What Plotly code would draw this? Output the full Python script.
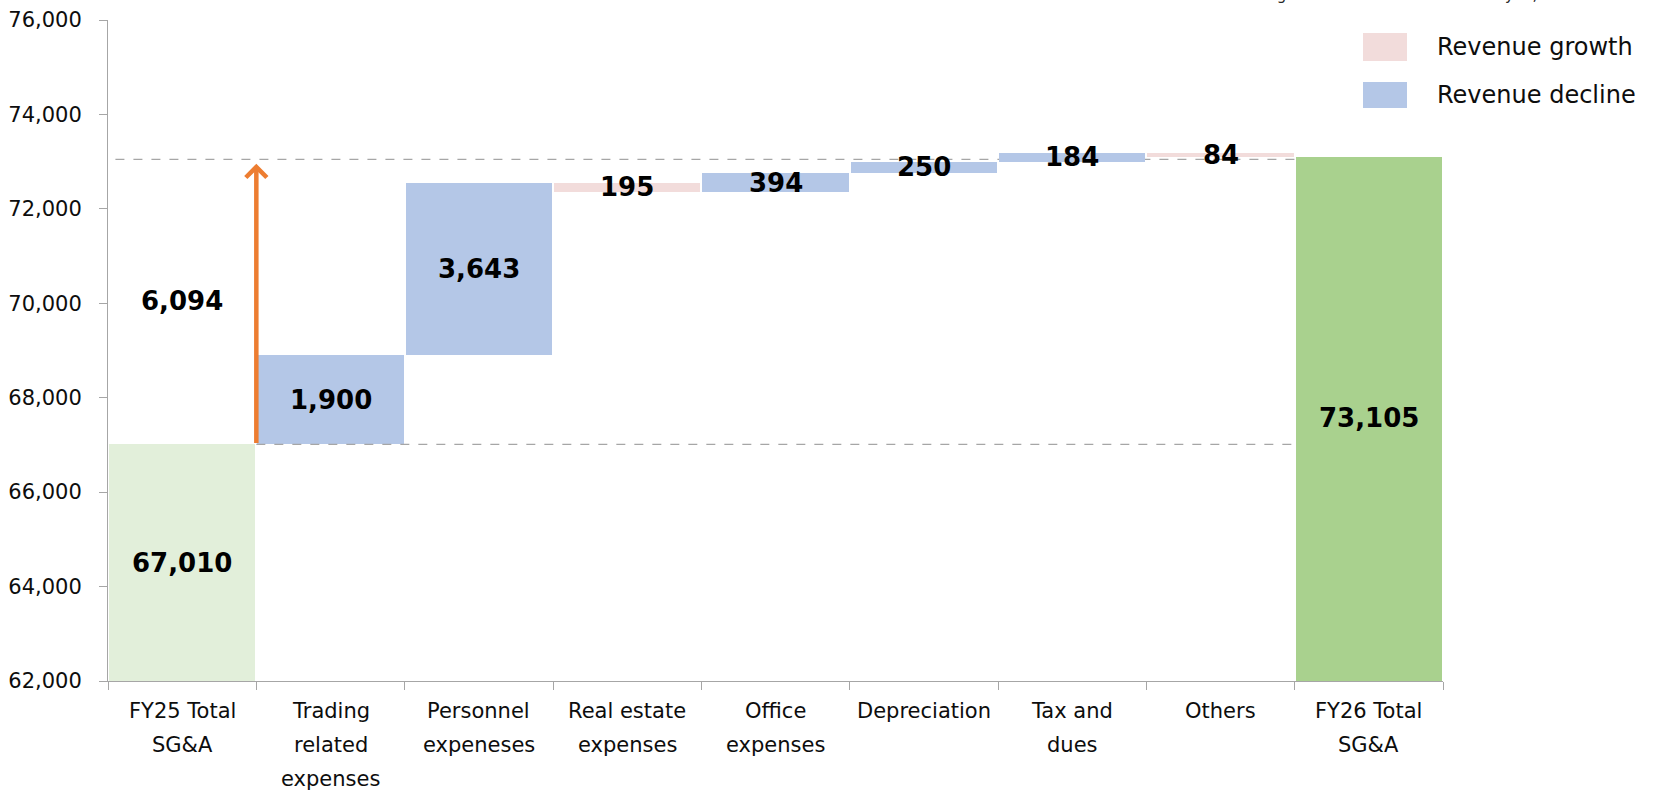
import plotly.graph_objects as go

# ---- data -------------------------------------------------------------
category_lines = [
    ["FY25 Total", "SG&A"],
    ["Trading", "related", "expenses"],
    ["Personnel", "expeneses"],
    ["Real estate", "expenses"],
    ["Office", "expenses"],
    ["Depreciation"],
    ["Tax and", "dues"],
    ["Others"],
    ["FY26 Total", "SG&A"],
]
fy25_total = 67010
fy26_total = 73105
item_changes = [1900, 3643, -195, 394, 250, 184, -84]
total_change = 6094
y_ticks = [62000, 64000, 66000, 68000, 70000, 72000, 74000, 76000]

# ---- styling ----------------------------------------------------------
FONT = "DejaVu Sans"
C_UP = "#B4C7E7"      # expense increase
C_DOWN = "#F2DCDB"    # expense decrease
C_START = "#E2EFDA"
C_END = "#A9D18E"
C_ARROW = "#ED7D31"
C_GUIDE = "#A6A6A6"
TXT = "#0d0d0d"

W, H = 1666, 790
L, R, T, B = 108, 223, 20, 109
plot_w = W - L - R
plot_h = H - T - B


def px_x(px):
    return (px - L) / plot_w


def px_y(py):
    return (H - B - py) / plot_h


# ---- waterfall geometry ------------------------------------------------
n = len(category_lines)
xs = list(range(n))
bases, heights, colors = [0], [fy25_total], [C_START]
running = fy25_total
for ch in item_changes:
    bases.append(running)
    heights.append(ch)
    colors.append(C_UP if ch > 0 else C_DOWN)
    running += ch
bases.append(0)
heights.append(fy26_total)
colors.append(C_END)

fig = go.Figure()
fig.add_trace(go.Bar(
    x=xs, y=heights, base=bases, width=0.985,
    marker=dict(color=colors, line=dict(width=0)),
    showlegend=False, hoverinfo="skip",
))

annotations = []
label_font = dict(family=FONT, size=26, color="#000000", weight="bold")

# value labels on the change bars
for i, ch in enumerate(item_changes, start=1):
    annotations.append(dict(
        x=i, y=bases[i] + ch / 2, xref="x", yref="y",
        text=f"{abs(ch):,}", showarrow=False, font=label_font,
    ))

# totals
annotations.append(dict(x=0, y=(y_ticks[0] + fy25_total) / 2, xref="x", yref="y",
                        text=f"{fy25_total:,}", showarrow=False, font=label_font))
annotations.append(dict(x=n - 1, y=67580, xref="x", yref="y",
                        text=f"{fy26_total:,}", showarrow=False, font=label_font))

# overall change arrow and its label
annotations.append(dict(
    x=0.5, y=fy25_total + total_change, ax=0.5, ay=fy25_total,
    xref="x", yref="y", axref="x", ayref="y", text="",
    showarrow=True, arrowhead=4, arrowsize=0.9, arrowwidth=4.5,
    arrowcolor=C_ARROW, standoff=7,
))
annotations.append(dict(x=0, y=fy25_total + total_change / 2, xref="x", yref="y",
                        text=f"{total_change:,}", showarrow=False, font=label_font))

# category labels, one annotation per line for wider line spacing
for i, lines in enumerate(category_lines):
    for k, line in enumerate(lines):
        annotations.append(dict(
            x=i, y=0, xref="x", yref="paper", yanchor="middle",
            yshift=-30 - 34 * k, text=line, showarrow=False,
            font=dict(family=FONT, size=21, color=TXT),
        ))

# legend
legend_items = [("Revenue growth", C_DOWN, 33, 61), ("Revenue decline", C_UP, 82, 108)]
shapes = []
for label, col, y0, y1 in legend_items:
    shapes.append(dict(type="rect", xref="paper", yref="paper",
                       x0=px_x(1363), x1=px_x(1407), y0=px_y(y1), y1=px_y(y0),
                       fillcolor=col, line=dict(width=0)))
    annotations.append(dict(x=px_x(1435), y=px_y((y0 + y1) / 2), xref="paper", yref="paper",
                            xanchor="left", yanchor="middle", text=label, showarrow=False,
                            font=dict(family=FONT, size=24, color=TXT)))

# unit note at the top edge
annotations.append(dict(x=px_x(1652), y=px_y(6), xref="paper", yref="paper",
                        xanchor="right", yanchor="bottom", showarrow=False,
                        text="Figures are stated in millions of yen, rounded down",
                        font=dict(family=FONT, size=15, color="#262626")))

# dashed guide lines
shapes.append(dict(type="line", xref="x", yref="y", x0=-0.45, x1=7.5, y0=73050, y1=73050,
                   line=dict(color=C_GUIDE, width=1.3, dash="dash"), layer="below"))
shapes.append(dict(type="line", xref="x", yref="y", x0=0.5, x1=7.5,
                   y0=fy25_total, y1=fy25_total,
                   line=dict(color=C_GUIDE, width=1.3, dash="dash"), layer="above"))

fig.update_layout(
    width=W, height=H,
    margin=dict(l=L, r=R, t=T, b=B, autoexpand=False),
    paper_bgcolor="white", plot_bgcolor="white",
    bargap=0,
    annotations=annotations,
    shapes=shapes,
    font=dict(family=FONT, color=TXT),
    xaxis=dict(
        range=[-0.5, n - 0.5], tickmode="array",
        tickvals=[i - 0.5 for i in range(n + 1)], showticklabels=False,
        ticks="outside", ticklen=8, tickcolor=C_GUIDE, tickwidth=1,
        showline=True, linecolor=C_GUIDE, linewidth=1, showgrid=False, zeroline=False,
        fixedrange=True,
    ),
    yaxis=dict(
        range=[y_ticks[0], y_ticks[-1]], tickmode="array", tickvals=y_ticks,
        tickformat=",", ticks="outside", ticklen=8, tickcolor=C_GUIDE, tickwidth=1,
        showline=True, linecolor=C_GUIDE, linewidth=1, showgrid=False, zeroline=False,
        tickfont=dict(family=FONT, size=21, color=TXT), ticklabelstandoff=13,
        fixedrange=True,
    ),
)

fig.write_html("out.html", config=dict(displayModeBar=False))
